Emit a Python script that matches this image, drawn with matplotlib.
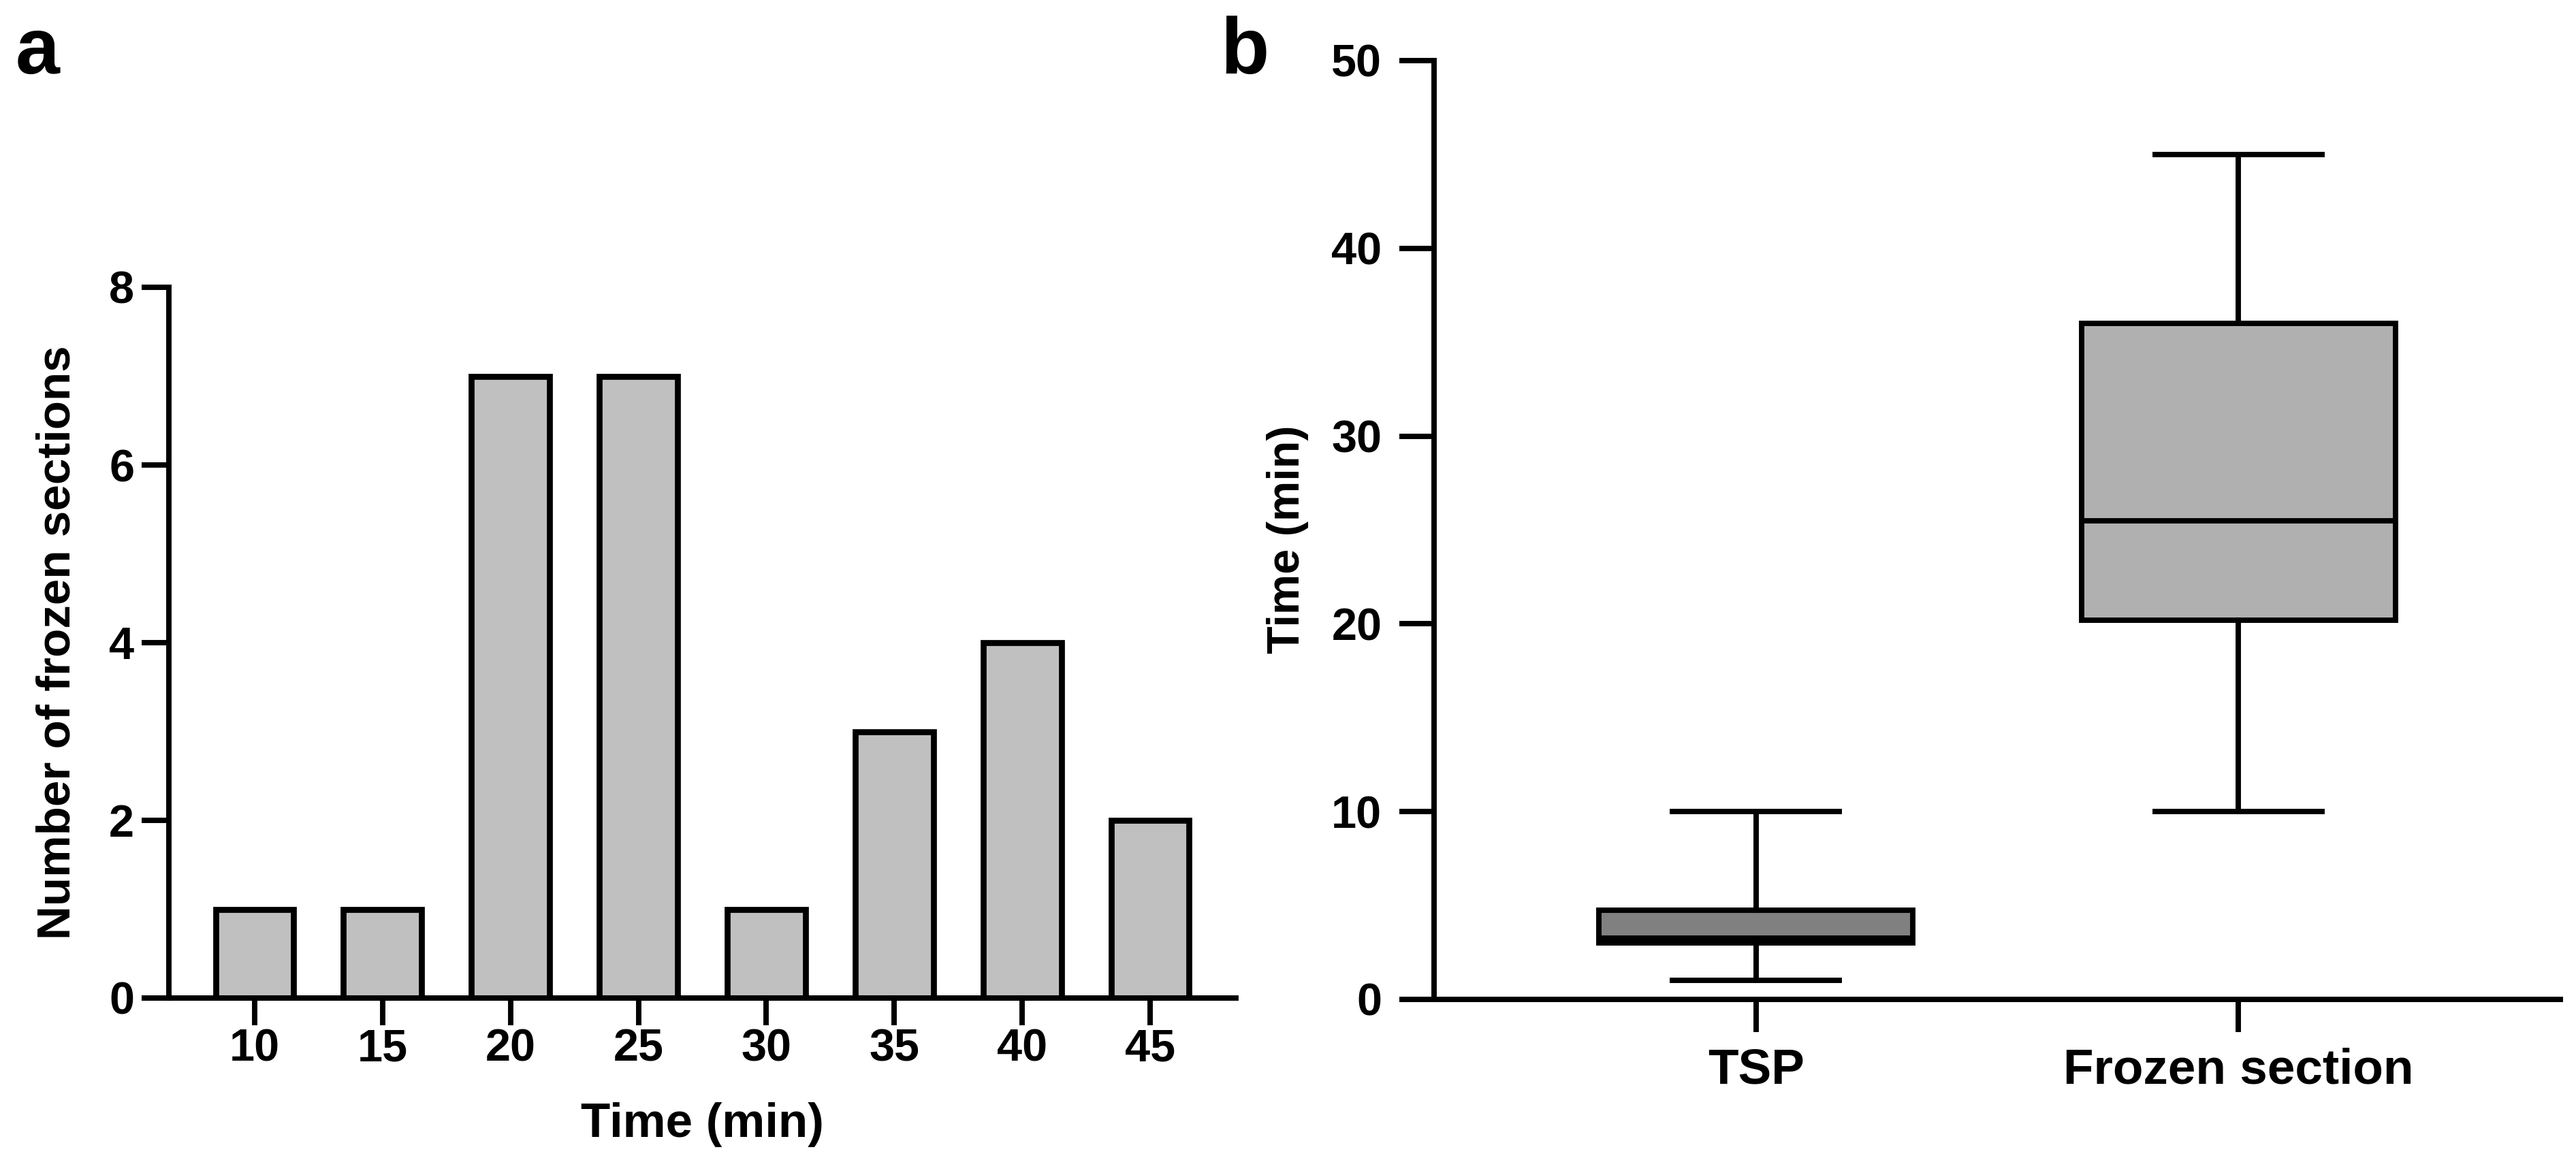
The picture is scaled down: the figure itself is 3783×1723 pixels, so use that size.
import matplotlib
matplotlib.use('Agg')
import matplotlib.pyplot as plt

plt.rcParams['font.family'] = ['Liberation Sans', 'DejaVu Sans']
plt.rcParams['font.weight'] = 'bold'

# panel a: histogram of frozen section turnaround
time_bins = ['10', '15', '20', '25', '30', '35', '40', '45']
n_sections = [1, 1, 7, 7, 1, 3, 4, 2]

# panel b: box plot summary (min, Q1, median, Q3, max)
groups = ['TSP', 'Frozen section']
whisker_low = [1, 10]
q1 = [3.0, 20.2]
median = [3.25, 25.5]
q3 = [4.75, 36.0]
whisker_high = [10, 45]
box_colors = ['#808080', '#b0b0b0']

W, H = 3783, 1723
fig = plt.figure(figsize=(W / 300, H / 300), dpi=300)

LW = 1.9

# ---------------- panel a ----------------
axa = fig.add_axes([248 / W, 1 - 1466 / H, (1815 - 248) / W, (1466 - 422) / H])
xpos = list(range(len(time_bins)))
axa.bar(xpos, n_sections, width=0.61, color='#c0c0c0', edgecolor='black',
        linewidth=2.1, zorder=2)
axa.set_xlim(-0.67, len(time_bins) - 1 + 0.67)
axa.set_ylim(0, 8)
axa.set_yticks([0, 2, 4, 6, 8])
axa.set_xticks(xpos)
axa.set_xticklabels(time_bins)
axa.set_xlabel('Time (min)', fontsize=17, fontweight='bold')
axa.set_ylabel('Number of frozen sections', fontsize=16.6, fontweight='bold')
axa.xaxis.set_label_coords(0.5, -0.147)
axa.yaxis.set_label_coords(-0.084, 0.5)
axa.tick_params(length=9.6, width=LW, labelsize=16)
axa.tick_params(axis='x', pad=1)
axa.tick_params(axis='y', pad=2.6)

# ---------------- panel b ----------------
axb = fig.add_axes([2106 / W, 1 - 1468 / H, (3760 - 2106) / W, (1468 - 89) / H])
stats = []
for i in range(len(groups)):
    stats.append({'whislo': whisker_low[i], 'q1': q1[i], 'med': median[i],
                  'q3': q3[i], 'whishi': whisker_high[i], 'label': groups[i]})
bp = axb.bxp(stats, positions=[1, 2], widths=0.65, patch_artist=True,
             showfliers=False,
             boxprops=dict(linewidth=LW, edgecolor='black'),
             medianprops=dict(color='black', linewidth=LW),
             whiskerprops=dict(color='black', linewidth=LW),
             capprops=dict(color='black', linewidth=LW),
             capwidths=0.345)
for patch, c in zip(bp['boxes'], box_colors):
    patch.set_facecolor(c)
axb.set_xlim(1 / 3, 2 + 2 / 3)
axb.set_ylim(0, 50)
axb.set_yticks([0, 10, 20, 30, 40, 50])
axb.set_ylabel('Time (min)', fontsize=16, fontweight='bold')
axb.yaxis.set_label_coords(-0.111, 0.49)
axb.tick_params(axis='y', length=12.2, width=LW, labelsize=16, pad=6.2)
axb.tick_params(axis='x', length=11.5, width=LW, labelsize=17.5, pad=5.3)

for ax in (axa, axb):
    for s in ('top', 'right'):
        ax.spines[s].set_visible(False)
    for s in ('left', 'bottom'):
        ax.spines[s].set_linewidth(LW)
        ax.spines[s].set_zorder(3)
    for lab in ax.get_xticklabels() + ax.get_yticklabels():
        lab.set_fontweight('bold')

fig.text(23 / W, 1 - 108 / H, 'a', fontsize=28, fontweight='bold',
         va='baseline', ha='left')
fig.text(1792 / W, 1 - 108 / H, 'b', fontsize=28, fontweight='bold',
         va='baseline', ha='left')

fig.savefig('out.png', dpi=300, facecolor='white')
